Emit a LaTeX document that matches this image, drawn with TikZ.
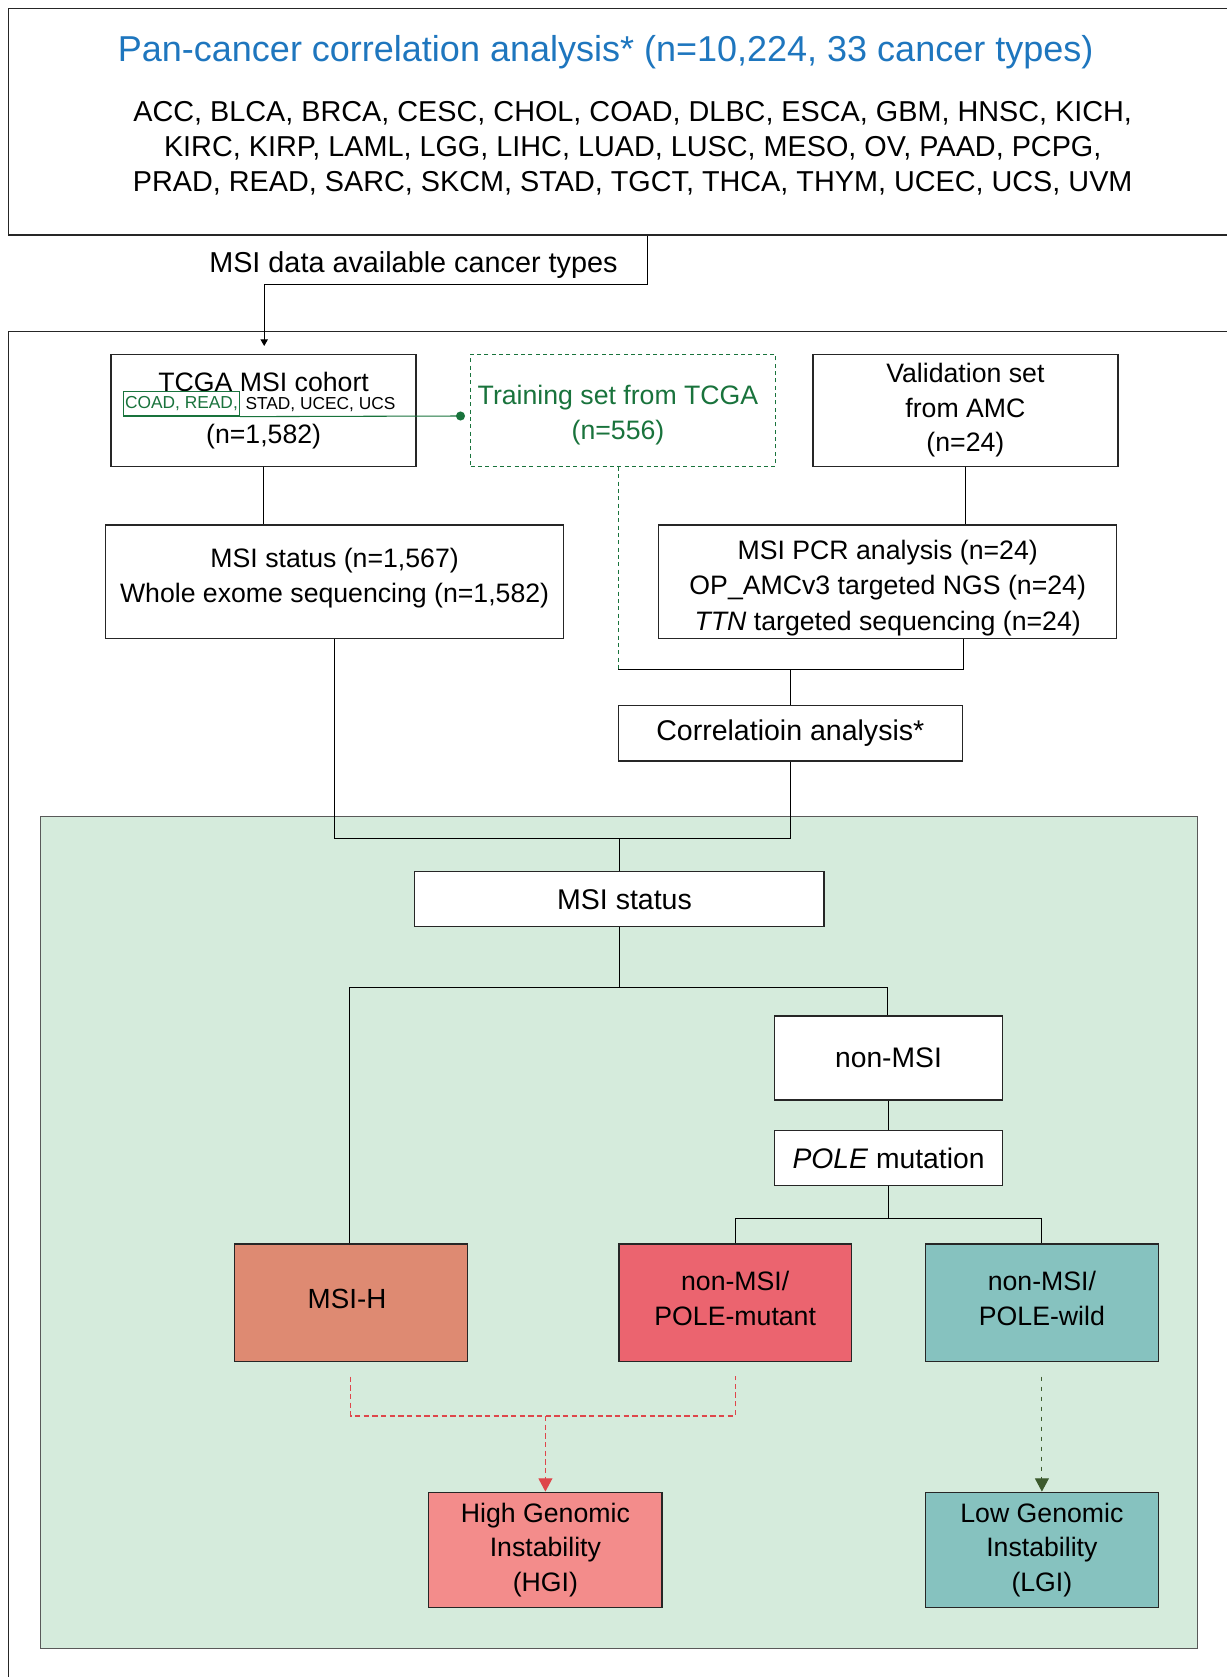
\documentclass[tikz,border=0pt]{standalone}
\usepackage{fontspec}
\setmainfont{Liberation Sans}
\usetikzlibrary{arrows.meta}
\definecolor{titleblue}{RGB}{30,118,190}
\definecolor{tcgagreen}{RGB}{25,115,60}
\definecolor{regiongreen}{RGB}{213,235,220}
\definecolor{msihfill}{RGB}{222,138,114}
\definecolor{mutfill}{RGB}{235,100,111}
\definecolor{wildfill}{RGB}{134,194,191}
\definecolor{hgifill}{RGB}{243,140,139}
\definecolor{hgired}{RGB}{222,70,75}
\definecolor{lgigreen}{RGB}{60,90,45}
\begin{document}
\begin{tikzpicture}[x=0.75pt,y=0.75pt,yscale=-1,xscale=1,line width=0.8pt,
  box/.style={draw=black!85,line width=1pt,fill=white,inner sep=0pt,align=center,
    font=\fontsize{20}{26}\selectfont},
  boxtext/.style={align=center,inner sep=0pt,font=\fontsize{20}{26}\selectfont},
  smallbox/.style={box,minimum width=228.7pt,minimum height=84pt},
  widebox/.style={box,minimum width=343.4pt,minimum height=85pt},
  resultbox/.style={box,minimum width=174.5pt,minimum height=88pt},
  gibox/.style={box,minimum width=175pt,minimum height=86.3pt},
  traindash/.style={draw=tcgagreen,dash pattern=on 3pt off 2.5pt},
  hgidash/.style={draw=hgired,dash pattern=on 4pt off 2.5pt},
  lgidash/.style={draw=lgigreen,dash pattern=on 3.5pt off 4pt},
  bigtip/.style={-{Triangle[width=10.5pt,length=10pt]}}
]
\clip (0,0) rectangle (1227,1677);

% Pan-cancer frame
\node [draw=black!85,line width=1pt,inner sep=0pt,minimum width=923.6pt,minimum height=169.9pt] (pan) at (624.3,121.8) {};
\node [text=titleblue,font=\fontsize{27}{32}\selectfont] (pantitle) at (605.7,52.4) {Pan-cancer correlation analysis* (n=10,224, 33 cancer types)};
\node [align=center,font=\fontsize{21.6}{26}\selectfont] (panlist) at (632.7,148.3) {ACC, BLCA, BRCA, CESC, CHOL, COAD, DLBC, ESCA, GBM, HNSC, KICH,\\KIRC, KIRP, LAML, LGG, LIHC, LUAD, LUSC, MESO, OV, PAAD, PCPG,\\PRAD, READ, SARC, SKCM, STAD, TGCT, THCA, THYM, UCEC, UCS, UVM};
\node [font=\fontsize{21.6}{26}\selectfont] (msidata) at (413.4,264.7) {MSI data available cancer types};

% MSI frame
\draw [draw=black!85,line width=1pt] (1240,331.6) -- (8.5,331.6) -- (8.5,1690);
\coordinate (c1) at (647.2,284.5);
\coordinate (arr) at (264.2,346);
\draw [-{Triangle[width=5.5pt,length=5pt]}] (c1 |- pan.south) -- (c1) -- (c1 -| arr) -- (arr);

% first row
\node [smallbox] (tcga) at (263.6,410.2) {};
\node [boxtext] (tcgatitle) at (263.6,381.7) {TCGA MSI cohort};
\node [draw=tcgagreen,line width=0.9pt,text=tcgagreen,inner sep=0pt,minimum width=87pt,minimum height=18.2pt,font=\fontsize{13}{15}\selectfont] (coadread) at (181.5,403.9) {COAD, READ,};
\node [anchor=west,inner sep=0pt,font=\fontsize{13}{15}\selectfont] (stad) at (245,405) {STAD, UCEC, UCS};
\node [boxtext] (tcgan) at (263.6,436.7) {(n=1,582)};
\node [smallbox,traindash] (train) at (623,410.2) {};
\node [boxtext,text=tcgagreen] (traintext) at (618,415) {Training set from TCGA\\(n=556)};
\node [smallbox] (val) at (965.4,410.2) {Validation set\\from AMC\\(n=24)};
\coordinate (dot) at (460.5,416);
\draw [tcgagreen] (coadread.south east) -- (dot);
\fill [tcgagreen] (dot) circle [radius=3.4pt];

% second row
\node [widebox] (ms) at (334.6,581.8) {};
\node [boxtext] (mstext) at (334.6,578) {MSI status (n=1,567)\\Whole exome sequencing (n=1,582)};
\node [widebox] (pcr) at (887.7,581.8) {};
\node [boxtext,font=\fontsize{20}{26.6}\selectfont] (pcrtext) at (887.7,587.8) {MSI PCR analysis (n=24)\\OP\_AMCv3 targeted NGS (n=24)\\\textit{TTN} targeted sequencing (n=24)};
\draw (tcga.south) -- (tcga.south |- ms.north);
\draw (val.south) -- (val.south |- pcr.north);

% correlation
\node [box,minimum width=258.2pt,minimum height=41.5pt,font=\fontsize{21.4}{26}\selectfont] (corr) at (790.3,733.4) {Correlatioin analysis*};
\coordinate (jl) at (618.1,669.3);
\coordinate (jr) at (963.8,669.3);
\draw [traindash] (jl |- train.south) -- (jl);
\draw (pcr.south -| jr) -- (jr) -- (jl);
\draw (corr.north |- jl) -- (corr.north);

% classification region
\draw [fill=regiongreen,draw=black!65,line width=1pt] (40.7,816.7) rectangle (1197.2,1648.6);
\node [box,minimum width=307pt,minimum height=41.25pt] (msi) at (619.4,899.2) {};
\node [boxtext,font=\fontsize{21.4}{26}\selectfont] (msitext) at (624.5,899.2) {MSI status};
\coordinate (ml) at (334.9,838.3);
\coordinate (mr) at (790.3,838.3);
\draw (corr.south) -- (mr) -- (ml) -- (ms.south -| ml);
\draw (msi.north |- ml) -- (msi.north);

\node [box,minimum width=170.8pt,minimum height=62.8pt,font=\fontsize{21.2}{26}\selectfont] (nonmsi) at (888.5,1058) {non-MSI};
\node [box,minimum width=170.8pt,minimum height=41.25pt,font=\fontsize{21.2}{26}\selectfont] (pole) at (888.5,1158.3) {\textit{POLE} mutation};
\node [resultbox,fill=msihfill] (msih) at (350.9,1302.8) {};
\node [boxtext,font=\fontsize{20.8}{26}\selectfont] (msihtext) at (347,1298.5) {MSI-H};
\node [resultbox,fill=mutfill] (polemut) at (735.2,1302.8) {};
\node [boxtext] (polemuttext) at (735.2,1298.5) {non-MSI/\\POLE-mutant};
\node [resultbox,fill=wildfill] (polewild) at (1041.9,1302.8) {};
\node [boxtext] (polewildtext) at (1041.9,1298.5) {non-MSI/\\POLE-wild};
\coordinate (sl) at (349.8,987.9);
\coordinate (sr) at (887.3,987.9);
\coordinate (p2) at (888.5,1218.2);
\draw (msi.south) -- (msi.south |- sl);
\draw (msih.north -| sl) -- (sl) -- (sr) -- (nonmsi.north -| sr);
\draw (nonmsi.south) -- (pole.north);
\draw (pole.south) -- (p2);
\draw (polemut.north) -- (polemut.north |- p2) -- (polewild.north |- p2) -- (polewild.north);

% genomic instability
\node [gibox,fill=hgifill] (hgi) at (545.4,1549.8) {High Genomic\\Instability\\(HGI)};
\node [gibox,fill=wildfill] (lgi) at (1041.9,1549.8) {Low Genomic\\Instability\\(LGI)};
\coordinate (hj) at (543,1416);
\draw [hgidash] (msih.south) ++(0,14.5) -- (msih.south |- hj) -- (polemut.south |- hj) -- ++(0,-40);
\draw [hgidash,bigtip,hgired] (hgi.north |- hj) -- (hgi.north);
\draw [lgidash,bigtip,lgigreen] (polewild.south) ++(0,14.5) -- (lgi.north);

\end{tikzpicture}
\end{document}
